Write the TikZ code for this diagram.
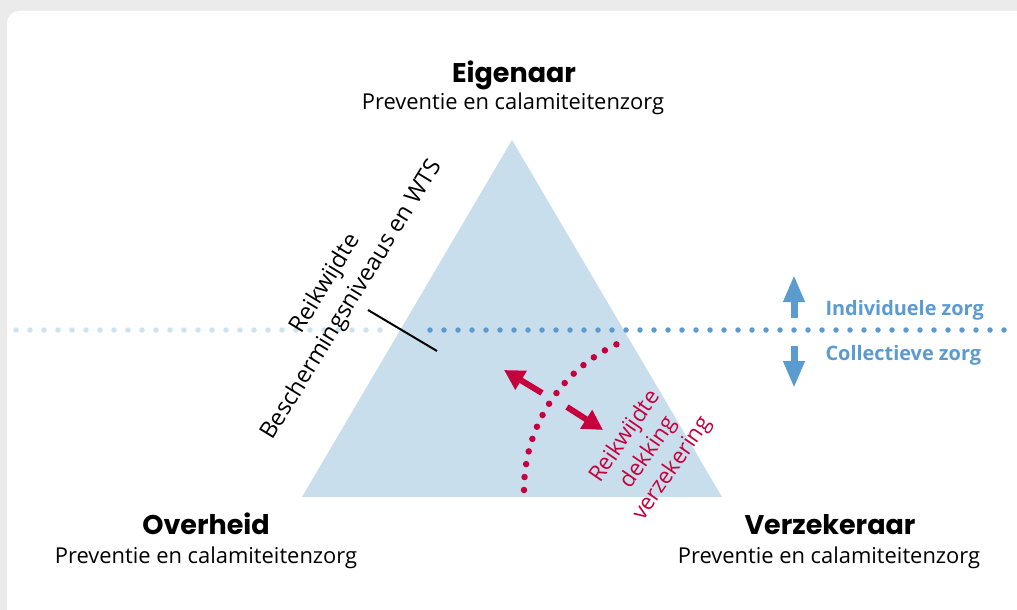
\documentclass[tikz,border=0pt]{standalone}
\usepackage{fontspec}
\setmainfont{Open Sans}
\newfontfamily\titlefont{Poppins}
\usetikzlibrary{arrows.meta}

\definecolor{greybg}{HTML}{EBEBEB}
\definecolor{trifill}{HTML}{C9DEED}
\definecolor{lightdot}{HTML}{CFE2F0}
\definecolor{zorgblue}{HTML}{5B9BD0}
\definecolor{dekred}{HTML}{C6003D}

\begin{document}
\begin{tikzpicture}[x=1pt,y=-1pt,
  title/.style={font=\titlefont\bfseries\fontsize{27}{30}\selectfont, anchor=base},
  sub/.style={font=\fontsize{21.9}{26}\selectfont, anchor=base},
  dots/.style={line width=5.5pt, line cap=round, dash pattern=on 0pt off 14pt},
  bluearrow/.style={zorgblue, line width=7pt, -{Triangle[width=20pt,length=27pt]}},
  redarrow/.style={dekred, line width=6pt, -{Triangle[width=21pt,length=20pt]}}]

\useasboundingbox (0,0) rectangle (1017,610);
\fill [greybg] (0,0) rectangle (1017,610);
\fill [white, rounded corners=12pt] (7,11) rectangle (1040,640);

% driehoek
\fill [trifill] (512,140) -- (722,497) -- (302,497) -- cycle;

% scheiding individueel / collectief
\draw [dots, lightdot] (16,330) -- (392,330);
\draw [dots, zorgblue] (430,330) -- (1010,330);

\draw [bluearrow] (794,318) -- (794,275);
\draw [bluearrow] (794,346) -- (794,388);
\node [anchor=base west, zorgblue, font=\bfseries\fontsize{19.9}{24}\selectfont] (indiv) at (822,315) {Individuele zorg};
\node [anchor=base west, zorgblue, font=\bfseries\fontsize{19.9}{24}\selectfont] (coll) at (822,360) {Collectieve zorg};

% beschermingsniveaus
\draw [line width=2pt] (368,310) -- (437,351);
\node [rotate=58.5, align=center, font=\fontsize{23.3}{31}\selectfont] (besch) at (339,292) {Reikwijdte\\Beschermingsniveaus en WTS};

% dekking verzekering
\draw [dots, dekred, line width=6.5pt, dash pattern=on 0pt off 13pt] (524,490) arc [start angle=180, end angle=246.6, radius=161];
\draw [redarrow] (542,393) -- (504,370);
\draw [redarrow] (567,407) -- (603,430);
\node [rotate=55.5, align=center, dekred, font=\fontsize{22.3}{28.5}\selectfont] (dekking) at (649,453) {Reikwijdte\\dekking\\verzekering};

% partijen
\node [title] (eigenaar) at (514,82) {Eigenaar};
\node [sub] (eigsub) at (513,109) {Preventie en calamiteitenzorg};
\node [title] (overheid) at (206,534) {Overheid};
\node [sub] (ovhsub) at (206,563) {Preventie en calamiteitenzorg};
\node [title] (verzekeraar) at (830,534) {Verzekeraar};
\node [sub] (verzsub) at (829,563) {Preventie en calamiteitenzorg};

\end{tikzpicture}
\end{document}
